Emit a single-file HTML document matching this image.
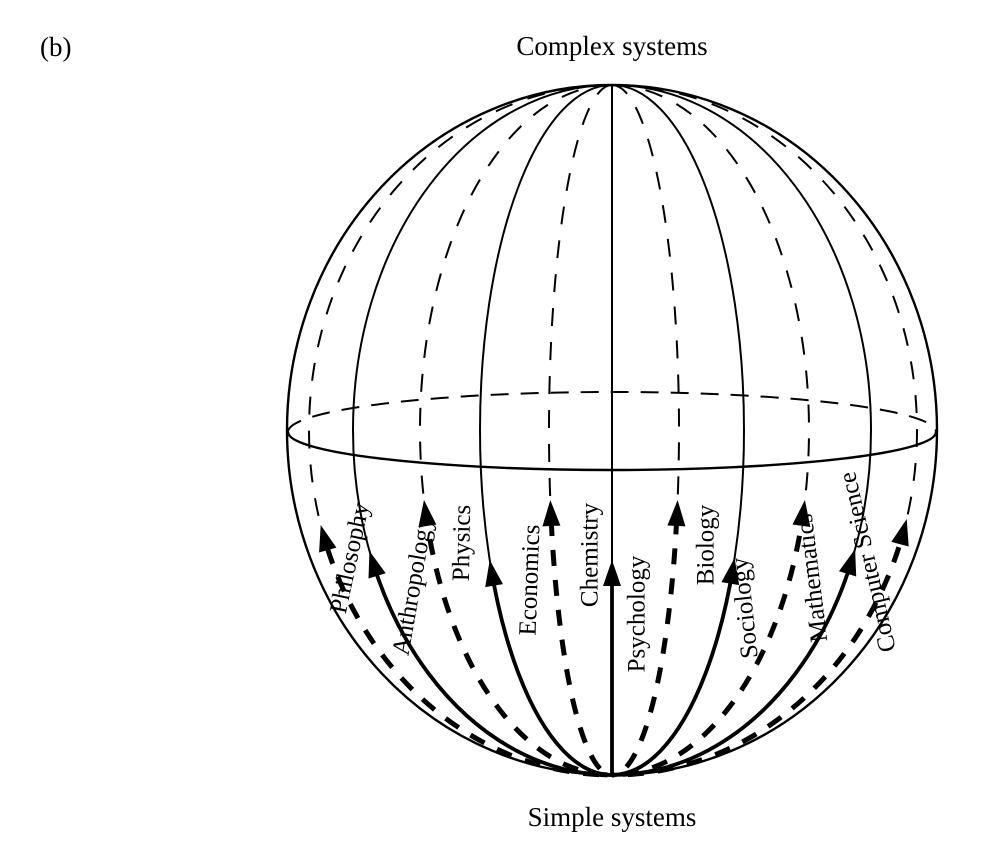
<!DOCTYPE html>
<html><head><meta charset="utf-8"><style>
html,body{margin:0;padding:0;background:#fff;}
svg{display:block;}
text{font-family:"Liberation Serif",serif;fill:#000;}
</style></head><body>
<svg id="s" width="998" height="862" viewBox="0 0 998 862" xmlns="http://www.w3.org/2000/svg">
<text x="40" y="56" font-size="27">(b)</text>
<text x="612" y="55" font-size="27" text-anchor="middle">Complex systems</text>
<text x="612" y="826" font-size="27" text-anchor="middle">Simple systems</text>
<g id="g"></g>
</svg>
<script>
const g=document.getElementById('g');
const CX=612,CY=430,RY=345,TOP=85,BOT=775;
let h='';
h+=`<ellipse cx="${CX}" cy="${CY}" rx="325" ry="${RY}" fill="none" stroke="#000" stroke-width="2.4"/>`;
h+=`<path d="M288,432 A324,40 0 0 1 936,432" fill="none" stroke="#000" stroke-width="2" stroke-dasharray="18,12"/>`;
h+=`<path d="M288,432 A324,38 0 0 0 936,432" fill="none" stroke="#000" stroke-width="2.4"/>`;
const M=[[-303,1,525],[-259,0,551],[-192,1,500],[-132,0,560],[-63,1,500],[0,0,560],[67,1,500],[132,0,558],[197,1,500],[259,0,549],[305,1,519]];
const xAt=(a,y)=>CX+a*Math.sqrt(Math.max(0,1-((y-CY)/RY)**2));
function path(a){
  if(a===0) return `M${CX},${TOP} L${CX},${BOT}`;
  return `M${CX},${TOP} A${Math.abs(a)},${RY} 0 0 ${a<0?0:1} ${CX},${BOT}`;
}
M.forEach((m,i)=>{
  const [a,d,ty]=m;
  h+=`<clipPath id="c${i}"><rect x="0" y="${ty+10}" width="998" height="900"/></clipPath>`;
  h+=`<clipPath id="u${i}"><rect x="0" y="0" width="998" height="${ty+10}"/></clipPath>`;
  h+=`<path d="${path(a)}" clip-path="url(#u${i})" fill="none" stroke="#000" stroke-width="2" ${d?'stroke-dasharray="18,16"':''}/>`;
  h+=`<path d="${path(a)}" clip-path="url(#c${i})" fill="none" stroke="#000" stroke-width="${d?5:3.8}" ${d?'stroke-dasharray="16,14"':''}/>`;
  const y2=ty+20, y1=ty;
  const ang=Math.atan2(xAt(a,y1)-xAt(a,y2),y2-y1)*180/Math.PI;
  h+=`<polygon points="0,0 -9,26 9,26" transform="translate(${xAt(a,ty)},${ty}) rotate(${ang})" fill="#000"/>`;
});
const L=[["Philosophy",350,558,-78],["Anthropology",413,586,-80],["Physics",462,543,-89],["Economics",530,580,-88],["Chemistry",590,555,-90],["Psychology",637,614,-90],["Biology",706,545,-90],["Sociology",745,608,-96],["Mathematics",812,578,-97],["Computer Science",868,562,-103]];
L.forEach(l=>{h+=`<text x="0" y="0" font-size="25" text-anchor="middle" dominant-baseline="central" transform="translate(${l[1]},${l[2]}) rotate(${l[3]})">${l[0]}</text>`;});
g.innerHTML=h;
</script>
</body></html>
